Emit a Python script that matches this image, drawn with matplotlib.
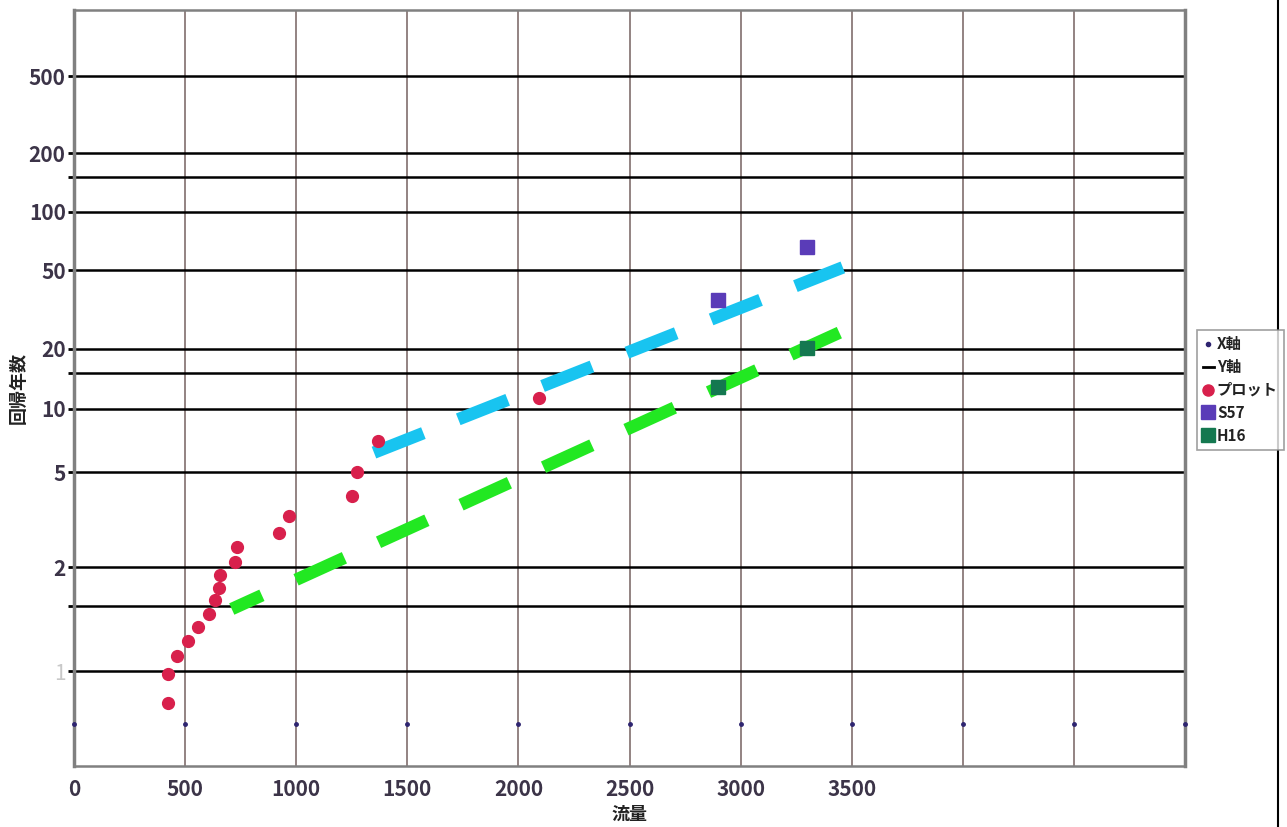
import numpy as np
import matplotlib.pyplot as plt
from matplotlib.lines import Line2D

plt.rcParams['font.family'] = ['Noto Sans CJK JP', 'DejaVu Sans']

# 流量 grid and the "X軸" helper points
x_grid = [0, 500, 1000, 1500, 2000, 2500, 3000, 3500, 4000, 4500, 5000]
x_labels = ['0', '500', '1000', '1500', '2000', '2500', '3000', '3500', '', '', '']
x_axis_T = 1.0114

# "Y軸" horizontal lines (return period)
y_lines = [1.1, 1.5, 2, 5, 10, 15, 20, 50, 100, 150, 200, 500]
y_labels = ['1', '', '2', '5', '10', '', '20', '50', '100', '', '200', '500']

# プロット
plot_q = [421, 421, 462, 514, 560, 606, 633, 653, 659, 725, 735, 923, 969, 1252, 1272, 1368, 2093]
plot_T = [1.031, 1.092, 1.157, 1.234, 1.323, 1.423, 1.558, 1.701, 1.875, 2.094, 2.382,
          2.709, 3.188, 3.884, 5.015, 6.98, 11.3]

# S57 / H16
s57_q = [2900, 3300]
s57_T = [35.1, 65.9]
h16_q = [2900, 3300]
h16_T = [12.85, 20.2]

# fitted lines
blue_q = [1350, 3460]
blue_T = [6.16, 51.7]
green_q = [710, 3460]
green_T = [1.47, 24.5]


def gumbel(T):
    T = np.asarray(T, dtype=float)
    with np.errstate(all='ignore'):
        return -np.log(-np.log(1.0 - 1.0 / T))


def gumbel_inv(y):
    y = np.asarray(y, dtype=float)
    with np.errstate(all='ignore'):
        return 1.0 / (1.0 - np.exp(-np.exp(-y)))


fig = plt.figure(figsize=(12.87, 8.27), dpi=100)
ax = fig.add_axes([74 / 1287, 1 - 766 / 827, (1185 - 74) / 1287, (766 - 10) / 827])
ax.set_yscale('function', functions=(gumbel, gumbel_inv))

ax.set_xlim(0, 5000)
ax.set_ylim(gumbel_inv(-2.0), gumbel_inv(7.0))

# vertical grid
for xg in x_grid[1:-1]:
    ax.axvline(xg, color='#8a7a78', lw=1.3, zorder=1)

# Y軸 lines
for i, t in enumerate(y_lines):
    ax.plot([0, 5000], [t, t], color='black', lw=1.8, zorder=2,
            label='Y軸' if i == 0 else None)

# X軸 dots
ax.plot(x_grid, [x_axis_T] * len(x_grid), 'o', color='#2e2470', ms=2.5, zorder=3, label='X軸',
        clip_on=False)

ax.plot(plot_q, plot_T, 'o', color='#d8204c', ms=8.5, zorder=5, label='プロット')
ax.plot(s57_q, s57_T, 's', color='#5a3cb8', ms=10, zorder=5, label='S57')
ax.plot(h16_q, h16_T, 's', color='#147850', ms=10, zorder=5, label='H16')

ax.plot(blue_q, blue_T, color='#18c4f0', lw=9, linestyle=(0, (4.25, 3.0)),
        solid_capstyle='butt', dash_capstyle='butt', zorder=4)
ax.plot(green_q, green_T, color='#22e822', lw=9, linestyle=(1.6, (4.25, 3.0)),
        solid_capstyle='butt', dash_capstyle='butt', zorder=4)

# axes look
for s in ax.spines.values():
    s.set_color('#808080')
ax.spines['left'].set_linewidth(2.5)
ax.spines['right'].set_linewidth(2.5)
ax.spines['top'].set_linewidth(1.8)
ax.spines['bottom'].set_linewidth(1.8)

ax.set_xticks(x_grid)
ax.set_xticklabels(x_labels)
ax.tick_params(axis='x', length=0, pad=9, labelsize=15, labelcolor='#3c3448')

ax.set_yticks(y_lines)
ax.set_yticklabels(y_labels)
ax.yaxis.set_minor_locator(plt.NullLocator())
ax.tick_params(axis='y', length=4, width=2, color='black', pad=2, labelsize=15,
               labelcolor='#3c3448')
for lab in ax.get_xticklabels() + ax.get_yticklabels():
    lab.set_fontweight('bold')
ax.get_yticklabels()[0].set_color('#c8c8c8')
ax.get_yticklabels()[0].set_fontweight('normal')

ax.set_xlabel('流量', fontsize=13, fontweight='bold', color='#222222', labelpad=4)
ax.set_ylabel('回帰年数', fontsize=13, fontweight='bold', color='#222222', labelpad=1)

handles = [
    Line2D([], [], marker='o', color='#2e2470', ls='none', ms=3),
    Line2D([], [], color='black', lw=2),
    Line2D([], [], marker='o', color='#d8204c', ls='none', ms=8),
    Line2D([], [], marker='s', color='#5a3cb8', ls='none', ms=10),
    Line2D([], [], marker='s', color='#147850', ls='none', ms=10),
]
leg = fig.legend(handles, ['X軸', 'Y軸', 'プロット', 'S57', 'H16'],
                 loc='upper left', bbox_to_anchor=(1197 / 1287, 1 - 330 / 827),
                 fontsize=11, handlelength=0.7, handletextpad=0.2, borderpad=0.4,
                 labelspacing=0.45, fancybox=False, borderaxespad=0)
leg.get_frame().set_edgecolor('#888888')
leg.get_frame().set_linewidth(1.2)
for t in leg.get_texts():
    t.set_fontweight('bold')
    t.set_color('#222222')

fig.add_artist(Line2D([1278 / 1287] * 2, [0, 1], color='black', lw=1.5))

plt.savefig('out.png', dpi=100)
